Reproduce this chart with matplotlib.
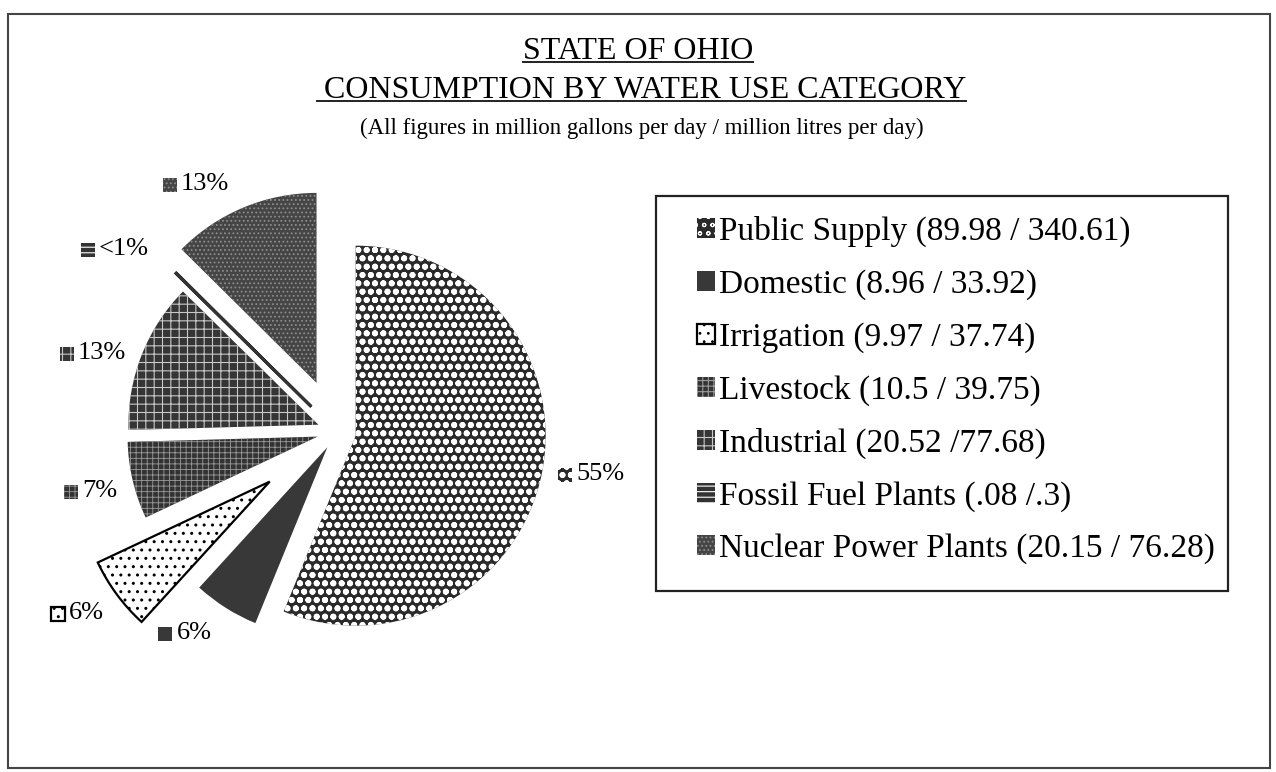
import matplotlib
matplotlib.use("Agg")
import matplotlib.pyplot as plt
from matplotlib.patches import Rectangle
from matplotlib.lines import Line2D
import numpy as np

categories = ['Public Supply', 'Domestic', 'Irrigation', 'Livestock',
              'Industrial', 'Fossil Fuel Plants', 'Nuclear Power Plants']
mgd = [89.98, 8.96, 9.97, 10.5, 20.52, 0.08, 20.15]
legend_labels = ['Public Supply (89.98 / 340.61)', 'Domestic (8.96 / 33.92)',
                 'Irrigation (9.97 / 37.74)', 'Livestock (10.5 / 39.75)',
                 'Industrial (20.52 /77.68)', 'Fossil Fuel Plants (.08 /.3)',
                 'Nuclear Power Plants (20.15 / 76.28)']
pct_labels = ['55%', '6%', '6%', '7%', '13%', '<1%', '13%']

# styling
explode = [0.10, 0.095, 0.44, 0.105, 0.105, 0.19, 0.28]
lab_r = [1.355, 1.326, 1.663, 1.332, 1.35, 1.515, 1.50]
lab_dang = [1.7, -4.8, -1.5, 0.1, 3.6, 5.1, 7.0]
faces = ['#2b2b2b', '#383838', 'white', '#333333', '#353535', '#333333', '#454545']
hatch_cols = ['white', '#383838', 'black', '#9a9a9a', '#c8c8c8', 'white', '#8c8c8c']
hatches = ['oo', None, '..', '+++', '++', '---', '....']
hatch_lw = [1.9, 0.8, 1.0, 0.6, 0.8, 0.8, 0.8]
edge_lw = [0, 0, 1.6, 0, 0, 0, 0]

W, H = 1276, 772
R = 190.0
cx, cy = 337.0, 772 - 432.0

plt.rcParams['font.family'] = ['Liberation Serif', 'DejaVu Serif']
plt.rcParams['hatch.linewidth'] = 0.8


def swatch(xy, w, h, i, **kw):
    p = Rectangle(xy, w, h, facecolor=faces[i], edgecolor=hatch_cols[i],
                  hatch=hatches[i], linewidth=edge_lw[i], **kw)
    if hasattr(p, 'set_hatch_linewidth'):
        p.set_hatch_linewidth(hatch_lw[i])
    return p


fig = plt.figure(figsize=(W / 100, H / 100), dpi=100)
ax = fig.add_axes([0, 0, 1, 1])

wedges, _ = ax.pie(mgd, explode=explode, startangle=90, counterclock=False,
                   radius=1, wedgeprops=dict(linewidth=0))
for i, w in enumerate(wedges):
    w.set_facecolor(faces[i])
    w.set_edgecolor(hatch_cols[i])
    w.set_linewidth(edge_lw[i])
    if hatches[i]:
        w.set_hatch(hatches[i])
    if hasattr(w, 'set_hatch_linewidth'):
        w.set_hatch_linewidth(hatch_lw[i])
# the fossil slice is a sliver: draw it as a dark line
wedges[5].set_hatch(None)
wedges[5].set_edgecolor('#333333')
wedges[5].set_linewidth(2.2)

ax.set_xlim(-cx / R, (W - cx) / R)
ax.set_ylim(-cy / R, (H - cy) / R)
ax.set_aspect('auto')
ax.axis('off')

# percent labels with small patterned squares
fig.canvas.draw()
renderer = fig.canvas.get_renderer()
sq = 14 / R
gap = 4 / R
for i, w in enumerate(wedges):
    th = np.deg2rad((w.theta1 + w.theta2) / 2 + lab_dang[i])
    px = lab_r[i] * np.cos(th)
    py = lab_r[i] * np.sin(th)
    t = ax.text(px, py, pct_labels[i], fontsize=19, ha='center', va='center')
    tw = t.get_window_extent(renderer).width / R
    t.set_x(px + (sq + gap) / 2)
    left = px - (tw + sq + gap) / 2
    ax.add_patch(swatch((left, py - sq / 2 - 1 / R), sq, sq, i))

# legend with its own box
handles = [swatch((0, 0), 1, 1, i) for i in range(len(categories))]
leg = fig.legend(handles, legend_labels, loc='upper left',
                 bbox_to_anchor=(697 / W, 1 - 216 / H), frameon=False,
                 fontsize=24, borderpad=0, borderaxespad=0,
                 handlelength=0.55, handleheight=0.55, handletextpad=0.1,
                 labelspacing=0.66)
fig.patches.append(Rectangle((656 / W, 1 - 591 / H), (1228 - 656) / W, (591 - 196) / H,
                             transform=fig.transFigure, fill=False,
                             edgecolor='#222222', linewidth=1.6))

# outer frame
fig.patches.append(Rectangle((8 / W, 1 - 768 / H), (1270 - 8) / W, (768 - 14) / H,
                             transform=fig.transFigure, fill=False,
                             edgecolor='#444444', linewidth=1.5))

# titles
t1 = fig.text(638 / W, 1 - 59 / H, 'STATE OF OHIO', fontsize=23, ha='center', va='baseline')
t2 = fig.text(645 / W, 1 - 98 / H, 'CONSUMPTION BY WATER USE CATEGORY', fontsize=23,
              ha='center', va='baseline')
fig.text(642 / W, 1 - 128 / H,
         '(All figures in million gallons per day / million litres per day)',
         fontsize=16.5, ha='center', va='center')

fig.canvas.draw()
for t, yline, ext in [(t1, 62, 0), (t2, 101, 7)]:
    bb = t.get_window_extent(renderer)
    fig.add_artist(Line2D([(bb.x0 - ext) / W, bb.x1 / W], [1 - yline / H, 1 - yline / H],
                          transform=fig.transFigure, color='#222222', linewidth=1.4))

fig.savefig('out.png', dpi=100, facecolor='white')
